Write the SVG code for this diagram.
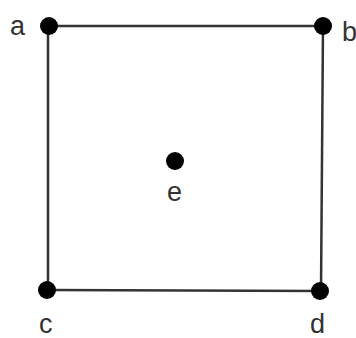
<svg xmlns="http://www.w3.org/2000/svg" width="356" height="338" viewBox="0 0 356 338">
<style>
.edge{stroke:#333;stroke-width:2.5;fill:none}
.dot{fill:#000}
.lbl{font-family:"Liberation Sans",Arial,sans-serif;font-size:27px;fill:#333}
</style>
<rect width="356" height="338" fill="#fff"/>
<g id="connectors">
<line class="edge" x1="48" y1="26" x2="323" y2="26"/>
<line class="edge" x1="48" y1="26" x2="48" y2="290"/>
<line class="edge" x1="323" y1="26" x2="321" y2="291"/>
<line class="edge" x1="48" y1="290" x2="321" y2="291"/>
</g>
<g id="a"><circle class="dot" cx="49" cy="26" r="9"/><text class="lbl" x="10" y="35">a</text></g>
<g id="b"><circle class="dot" cx="323" cy="26" r="9"/><text class="lbl" x="342" y="41">b</text></g>
<g id="c"><circle class="dot" cx="47" cy="290" r="9"/><text class="lbl" x="39" y="333">c</text></g>
<g id="d"><circle class="dot" cx="320" cy="291" r="9"/><text class="lbl" x="310" y="333">d</text></g>
<g id="e"><circle class="dot" cx="175" cy="161" r="9"/><text class="lbl" x="167" y="201">e</text></g>
</svg>
